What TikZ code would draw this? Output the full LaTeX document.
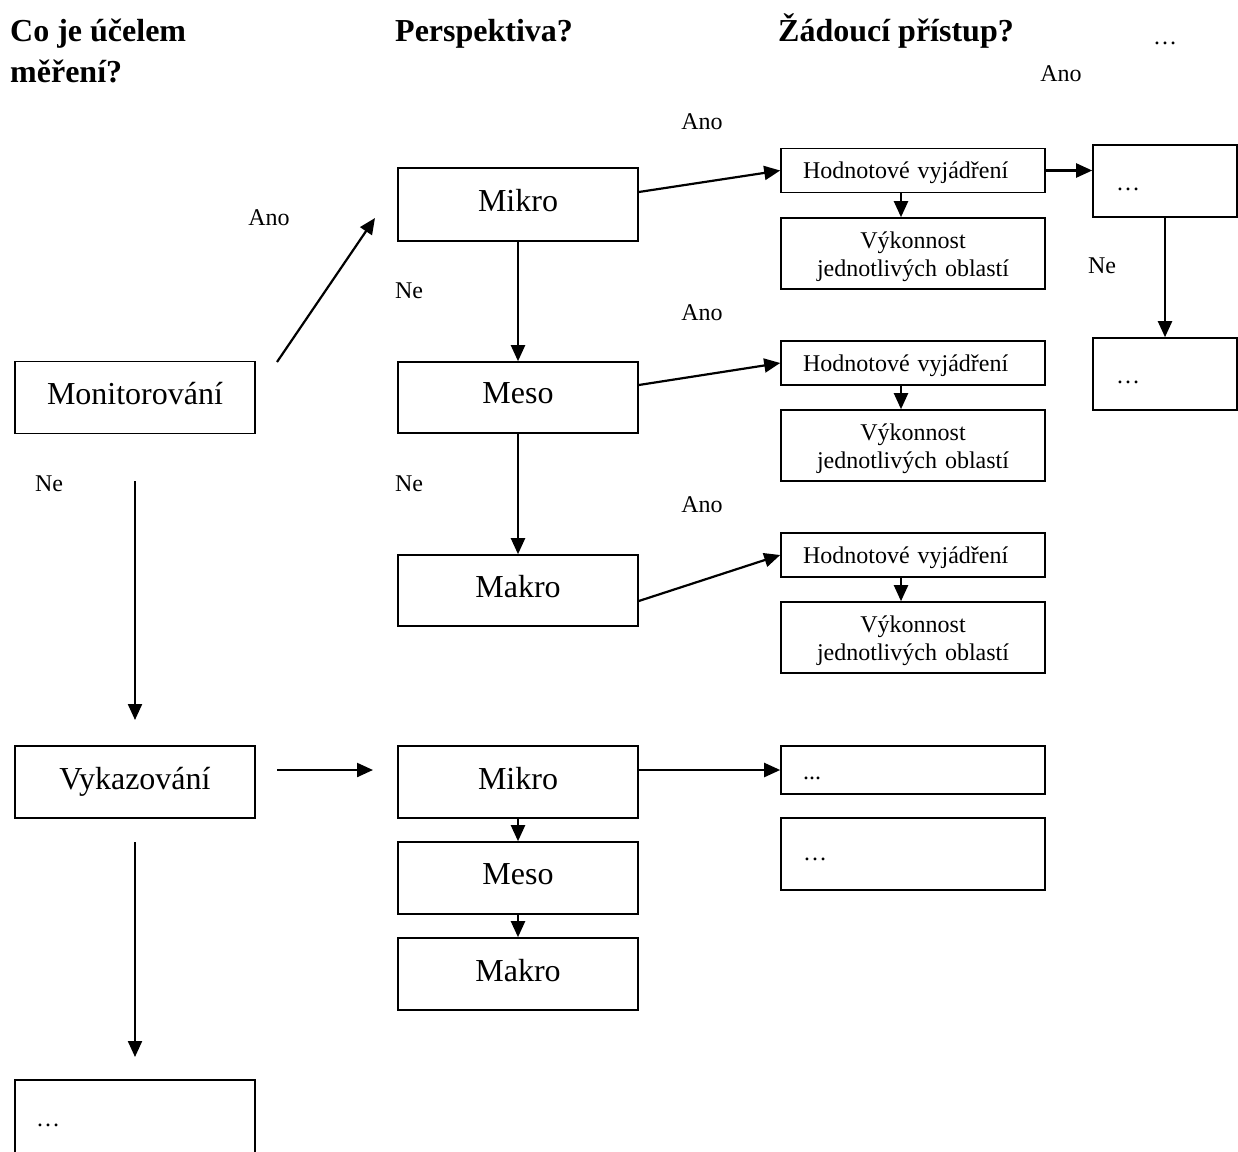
\documentclass[tikz,border=0pt]{standalone}
\usepackage{fontspec}
\setmainfont{Liberation Serif}
\usetikzlibrary{arrows.meta}

\begin{document}
\begin{tikzpicture}[x=1pt,y=-1pt,
  bigbox/.style={draw,line width=1.6pt,minimum width=240pt,minimum height=72pt,inner sep=0pt,
    text depth=8pt,font=\fontsize{32}{38}\selectfont},
  valbox/.style={draw,line width=1.6pt,minimum width=264pt,minimum height=44pt,inner ysep=0pt,
    inner xsep=22pt,text width=220pt,align=left,text depth=0pt,font=\fontsize{24}{28}\selectfont},
  perfbox/.style={draw,line width=1.6pt,minimum width=264pt,minimum height=71pt,inner ysep=0pt,
    inner xsep=10pt,text width=244pt,align=center,text depth=27pt,font=\fontsize{24}{28}\selectfont},
  dotbox/.style={draw,line width=1.6pt,inner ysep=0pt,align=left,text height=18pt,text depth=0pt,
    font=\fontsize{24}{28}\selectfont},
  lbl/.style={inner sep=0pt,font=\fontsize{24}{28}\selectfont},
  head/.style={inner sep=0pt,anchor=base west,font=\bfseries\fontsize{32}{41}\selectfont},
  arr/.style={line width=2.2pt,-{Triangle[length=16pt,width=14pt]}}]

\useasboundingbox (0,0) rectangle (1238,1151);

% column headings (the two-line one is anchored on its last baseline)
\node[head,align=left] (h1) at (10,82) {Co je účelem\\měření?};
\node[head] (h2) at (395,41) {Perspektiva?};
\node[head] (h3) at (778,41) {Žádoucí přístup?};
\node[lbl,anchor=base] (h4) at (1165,44) {…};

% purpose column
\node[bigbox] (mon) at (135,397.5) {Monitorování};
\node[bigbox] (vyk) at (135,782) {Vykazování};
\node[dotbox,minimum width=240pt,minimum height=80pt,inner xsep=21pt,text width=198pt,text height=12pt] (dotsL) at (135,1120) {…};

% perspective column, monitoring branch
\node[bigbox,minimum height=73pt] (mik1) at (518,204.5) {Mikro};
\node[bigbox,minimum height=71pt] (mes1) at (518,397.5) {Meso};
\node[bigbox,minimum height=71pt] (mak1) at (518,590.5) {Makro};

% approach column, monitoring branch
\node[valbox] (hod1) at (913,170.5) {Hodnotové vyjádření};
\node[perfbox] (perf1) at (913,253.5) {Výkonnost\\jednotlivých oblastí};
\node[valbox] (hod2) at (913,363) {Hodnotové vyjádření};
\node[perfbox] (perf2) at (913,445.5) {Výkonnost\\jednotlivých oblastí};
\node[valbox] (hod3) at (913,555) {Hodnotové vyjádření};
\node[perfbox] (perf3) at (913,637.5) {Výkonnost\\jednotlivých oblastí};

% further steps
\node[dotbox,minimum width=144pt,minimum height=72pt,inner xsep=23pt,text width=98pt] (dotsR1) at (1165,181) {…};
\node[dotbox,minimum width=144pt,minimum height=72pt,inner xsep=23pt,text width=98pt] (dotsR2) at (1165,374) {…};

% reporting branch
\node[bigbox] (mik2) at (518,782) {Mikro};
\node[bigbox] (mes2) at (518,878) {Meso};
\node[bigbox] (mak2) at (518,974) {Makro};
\node[dotbox,minimum width=264pt,minimum height=48pt,inner xsep=22pt,text width=220pt] (dotsA) at (913,770) {...};
\node[dotbox,minimum width=264pt,minimum height=72pt,inner xsep=22pt,text width=220pt,text height=12pt] (dotsB) at (913,854) {…};

% free connector ends
\coordinate (d1s) at (277,362);
\coordinate (d1e) at (375,218);
\coordinate (m1s) at (135,481);
\coordinate (m1e) at (135,720);
\coordinate (v1s) at (135,842);
\coordinate (v1e) at (135,1057);
\coordinate (v2s) at (277,770);
\coordinate (v2e) at (373,770);

% connectors
\draw[arr] (d1s) -- (d1e);
\draw[arr] (m1s) -- (m1e);
\draw[arr] (v1s) -- (v1e);
\draw[arr] (v2s) -- (v2e);

\draw[arr] (mik1.south) -- (mes1.north);
\draw[arr] (mes1.south) -- (mak1.north);

\draw[arr] ([yshift=12.5pt]mik1.east) -- (hod1.west);
\draw[arr] ([yshift=12.5pt]mes1.east) -- (hod2.west);
\draw[arr] ([yshift=-10.5pt]mak1.east) -- (hod3.west);

\draw[arr] ([xshift=-12pt]hod1.south) -- ([xshift=-12pt]perf1.north);
\draw[arr] ([xshift=-12pt]hod2.south) -- ([xshift=-12pt]perf2.north);
\draw[arr] ([xshift=-12pt]hod3.south) -- ([xshift=-12pt]perf3.north);

\draw[arr] (hod1.east) -- (hod1.east -| dotsR1.west);
\draw[arr] (dotsR1.south) -- (dotsR2.north);

\draw[arr] ([yshift=12pt]mik2.east) -- (dotsA.west);
\draw[arr] (mik2.south) -- (mes2.north);
\draw[arr] (mes2.south) -- (mak2.north);

% branch labels
\node[lbl] (a0) at (1061,74) {Ano};
\node[lbl] (a1) at (702,122) {Ano};
\node[lbl] (a2) at (269,218) {Ano};
\node[lbl] (a3) at (702,313) {Ano};
\node[lbl] (a4) at (702,505) {Ano};
\node[lbl] (n1) at (409,291) {Ne};
\node[lbl] (n2) at (49,484) {Ne};
\node[lbl] (n3) at (409,484) {Ne};
\node[lbl] (n4) at (1102,266) {Ne};

\end{tikzpicture}
\end{document}
